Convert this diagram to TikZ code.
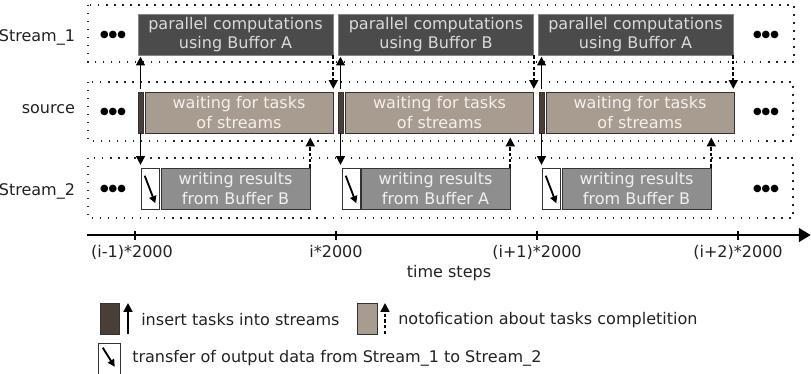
\documentclass[tikz,border=0pt]{standalone}
\usepackage{fontspec}
\setmainfont{DejaVu Sans}
\usepackage{xcolor}
\usetikzlibrary{arrows.meta,calc}
\definecolor{labtext}{HTML}{222222}
\definecolor{compfill}{HTML}{4B4B4B}
\definecolor{compdraw}{HTML}{858585}
\definecolor{comptext}{HTML}{DADADA}
\definecolor{insfill}{HTML}{4A3F38}
\definecolor{waitfill}{HTML}{A89B8F}
\definecolor{waittext}{HTML}{F4F0EC}
\definecolor{writefill}{HTML}{8E8E8E}
\definecolor{writetext}{HTML}{F0F0F0}
\definecolor{boxdraw}{HTML}{333333}
\tikzset{
	every node/.style={font=\fontsize{11.4pt}{13.6pt}\selectfont, text=labtext},
	lane/.style={draw=black!85, line width=0.9pt, dash pattern=on 0.9pt off 4.8pt},
	comp/.style={draw=compdraw, fill=compfill, text=comptext, align=center,
			inner sep=0pt, minimum width=4.875cm, minimum height=1.025cm},
	insbox/.style={draw=boxdraw, fill=insfill, inner sep=0pt,
			minimum width=0.125cm, minimum height=1.025cm},
	wait/.style={draw=boxdraw, fill=waitfill, text=waittext, align=center,
			inner sep=0pt, minimum width=4.7cm, minimum height=1.025cm},
	trbox/.style={draw=boxdraw, fill=white, inner sep=0pt,
			minimum width=0.45cm, minimum height=1.025cm},
	writebox/.style={draw=boxdraw, fill=writefill, text=writetext, align=center,
			inner sep=0pt, minimum width=3.725cm, minimum height=1.025cm},
	dots/.style={font=\fontsize{7pt}{8pt}\selectfont, text=black, inner sep=0pt},
	insarrow/.style={line width=1.3pt, -{Triangle[length=2.2mm,width=2.2mm]}},
	notearrow/.style={line width=1.3pt, dash pattern=on 2.4pt off 1.6pt,
			-{Triangle[length=2.2mm,width=2.2mm]}},
	trarrow/.style={line width=1.3pt, -{Triangle[length=1.8mm,width=1.8mm]}},
	axis/.style={line width=1.8pt, -{Triangle[length=3mm,width=3.4mm]}},
	tick/.style={line width=2pt}
}
\begin{document}
\begin{tikzpicture}
	\useasboundingbox (0,0) rectangle (20.275,-9.325);
	% lanes
	\draw[lane] (2.2,-0.125) rectangle (19.85,-1.55);
	\draw[lane] (2.2,-2.05) rectangle (19.825,-3.525);
	\draw[lane] (2.2,-3.95) rectangle (19.825,-5.45);
	\node[anchor=base east] (s1) at (2.0,-1.025) {Stream\_1};
	\node[anchor=base east] (src) at (2.0,-2.825) {source};
	\node[anchor=base east] (s2) at (2.0,-4.875) {Stream\_2};
	\node[dots] (d1) at (2.825,-0.875) {●●●};
	\node[dots] (d2) at (2.825,-2.8) {●●●};
	\node[dots] (d3) at (2.825,-4.725) {●●●};
	\node[dots] (e1) at (19.15,-0.875) {●●●};
	\node[dots] (e2) at (19.15,-2.8) {●●●};
	\node[dots] (e3) at (19.15,-4.725) {●●●};

	% Stream_1
	\node[comp] (c1) at (5.8875,-0.8625) {parallel computations\\using Buffor A};
	\node[comp] (c2) at (10.9,-0.8625) {parallel computations\\using Buffor B};
	\node[comp] (c3) at (15.8875,-0.8625) {parallel computations\\using Buffor A};
	% source
	\node[insbox] (ins1) at (3.5125,-2.8125) {};
	\node[wait] (w1) at (5.975,-2.8125) {waiting for tasks\\of streams};
	\node[insbox] (ins2) at (8.5125,-2.8125) {};
	\node[wait] (w2) at (10.9875,-2.8125) {waiting for tasks\\of streams};
	\node[insbox] (ins3) at (13.5375,-2.8125) {};
	\node[wait] (w3) at (16.0,-2.8125) {waiting for tasks\\of streams};
	% Stream_2
	\node[trbox] (tr1) at (3.75,-4.7125) {};
	\node[writebox] (wr1) at (5.8875,-4.7125) {writing results\\from Buffer B};
	\node[trbox] (tr2) at (8.775,-4.7125) {};
	\node[writebox] (wr2) at (10.8875,-4.7125) {writing results\\from Buffer A};
	\node[trbox] (tr3) at (13.775,-4.7125) {};
	\node[writebox] (wr3) at (15.9125,-4.7125) {writing results\\from Buffer B};

	% insert tasks
	\draw[insarrow, shorten <=2pt, shorten >=1pt] (ins1.north) -- (ins1.north |- c1.south);
	\draw[insarrow, shorten <=2pt, shorten >=1pt] (ins2.north) -- (ins2.north |- c2.south);
	\draw[insarrow, shorten <=2pt, shorten >=1pt] (ins3.north) -- (ins3.north |- c3.south);
	\draw[insarrow, shorten >=2pt] (ins1.south) -- (ins1.south |- tr1.north);
	\draw[insarrow, shorten >=2pt] (ins2.south) -- (ins2.south |- tr2.north);
	\draw[insarrow, shorten >=2pt] (ins3.south) -- (ins3.south |- tr3.north);
	% notifications
	\draw[notearrow, shorten >=2pt] (c1.south east) -- (c1.south east |- w1.north);
	\draw[notearrow, shorten >=2pt] (c2.south east) -- (c2.south east |- w2.north);
	\draw[notearrow, shorten >=2pt] (c3.south east) -- (c3.south east |- w3.north);
	\draw[notearrow, shorten >=3pt] (wr1.north east) -- (wr1.north east |- w1.south);
	\draw[notearrow, shorten >=3pt] (wr2.north east) -- (wr2.north east |- w2.south);
	\draw[notearrow, shorten >=3pt] (wr3.north east) -- (wr3.north east |- w3.south);
	% transfers
	\draw[trarrow] ($(tr1.north west)+(0.1,-0.2)$) -- ($(tr1.south east)+(-0.1,0.15)$);
	\draw[trarrow] ($(tr2.north west)+(0.1,-0.2)$) -- ($(tr2.south east)+(-0.1,0.15)$);
	\draw[trarrow] ($(tr3.north west)+(0.1,-0.2)$) -- ($(tr3.south east)+(-0.1,0.15)$);

	% time axis
	\coordinate (ax0) at (2.175,-5.875);
	\coordinate (ax1) at (20.27,-5.875);
	\draw[axis] (ax0) -- (ax1);
	\foreach \x in {3.375,8.4,13.425,18.45}
	\draw[tick] (\x,-5.7625) -- (\x,-5.9875);
	\node (t1) at (3.3,-6.3) {(i-1)*2000};
	\node (t2) at (8.4,-6.3) {i*2000};
	\node (t3) at (13.425,-6.3) {(i+1)*2000};
	\node (t4) at (18.45,-6.3) {(i+2)*2000};
	\node (ts) at (11.225,-6.825) {time steps};

	% legend
	\node[insbox, minimum width=0.475cm, minimum height=0.775cm] (li) at (2.7375,-7.9625) {};
	\coordinate (la0) at (3.2,-8.35);
	\coordinate (la1) at (3.2,-7.575);
	\draw[insarrow] (la0) -- (la1);
	\node[anchor=west, inner sep=0pt] (lit) at (3.525,-8.0) {insert tasks into streams};
	\node[draw=boxdraw, fill=waitfill, minimum width=0.5cm, minimum height=0.775cm, inner sep=0pt] (lw) at (9.175,-7.9625) {};
	\coordinate (lb0) at (9.625,-8.35);
	\coordinate (lb1) at (9.625,-7.575);
	\draw[notearrow] (lb0) -- (lb1);
	\node[anchor=west, inner sep=0pt] (lwt) at (9.95,-8.0) {notofication about tasks completition};
	\node[trbox, minimum width=0.55cm, minimum height=0.8cm] (lt) at (2.725,-8.975) {};
	\draw[trarrow] ($(lt.north west)+(0.125,-0.125)$) -- ($(lt.north west)+(0.425,-0.6)$);
	\node[anchor=west, inner sep=0pt] (ltt) at (3.3,-8.95) {transfer of output data from Stream\_1 to Stream\_2};
\end{tikzpicture}
\end{document}
